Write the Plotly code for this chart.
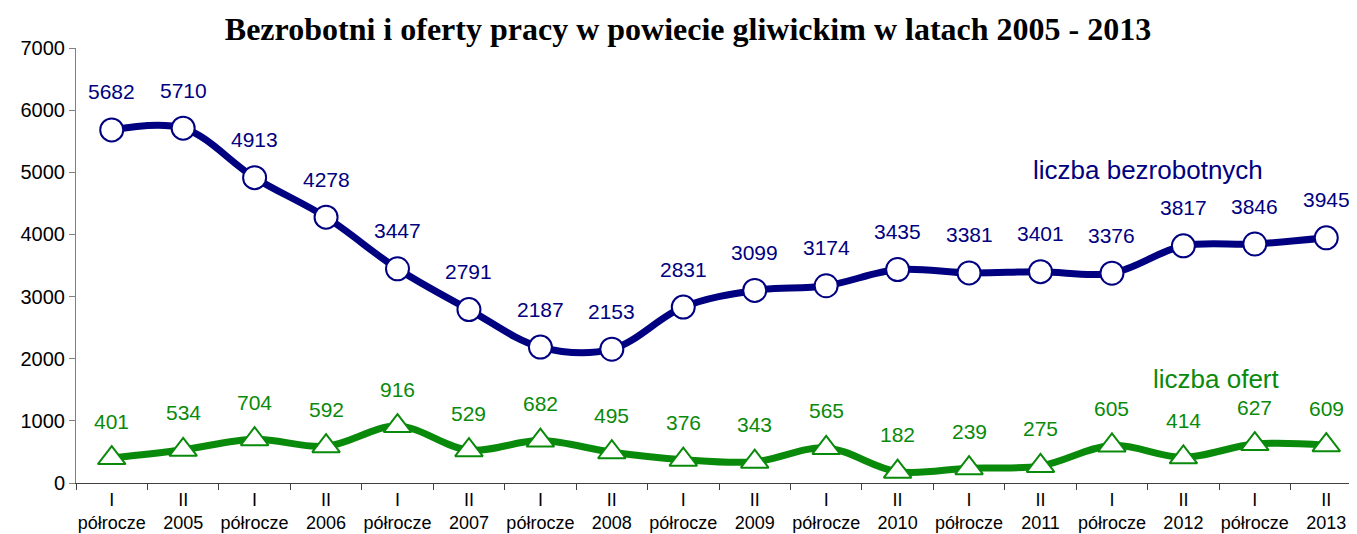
import plotly.graph_objects as go

tick_labels = ["I<br>półrocze", "II<br>2005", "I<br>półrocze", "II<br>2006", "I<br>półrocze", "II<br>2007",
               "I<br>półrocze", "II<br>2008", "I<br>półrocze", "II<br>2009", "I<br>półrocze", "II<br>2010",
               "I<br>półrocze", "II<br>2011", "I<br>półrocze", "II<br>2012", "I<br>półrocze", "II<br>2013"]
bezrobotni = [5682, 5710, 4913, 4278, 3447, 2791, 2187, 2153, 2831, 3099, 3174, 3435, 3381, 3401, 3376, 3817, 3846, 3945]
oferty = [401, 534, 704, 592, 916, 529, 682, 495, 376, 343, 565, 182, 239, 275, 605, 414, 627, 609]
y_ticks = [0, 1000, 2000, 3000, 4000, 5000, 6000, 7000]

positions = list(range(len(tick_labels)))
boundaries = [p + 0.5 for p in positions[:-1]] + [-0.5]

NAVY = "#000080"
GREEN = "#0a8a0a"
FONT = "Arial, Liberation Sans"

fig = go.Figure()
fig.add_trace(go.Scatter(
    x=positions, y=bezrobotni, mode="lines+markers",
    line=dict(color=NAVY, width=7, shape="spline", smoothing=1.0),
    marker=dict(symbol="circle", size=23, color="white", line=dict(color=NAVY, width=2)),
    showlegend=False, cliponaxis=False))
fig.add_trace(go.Scatter(
    x=positions, y=oferty, mode="lines+markers",
    line=dict(color=GREEN, width=7, shape="spline", smoothing=1.0),
    marker=dict(symbol="triangle-up", size=24, color="white", line=dict(color=GREEN, width=2)),
    showlegend=False, cliponaxis=False))
# invisible trace to activate the boundary-tick axis
fig.add_trace(go.Scatter(x=[positions[0]], y=[0], xaxis="x2", mode="markers",
                         marker=dict(opacity=0), showlegend=False, hoverinfo="skip"))

for p, v in zip(positions, bezrobotni):
    fig.add_annotation(x=p, y=v, text=str(v), showarrow=False, yshift=38,
                       font=dict(family=FONT, size=21, color=NAVY))
for p, v in zip(positions, oferty):
    fig.add_annotation(x=p, y=v, text=str(v), showarrow=False, yshift=37,
                       font=dict(family=FONT, size=21, color=GREEN))

# page body has an 8px margin; figure is drawn offset by (8, 8)
OFF = 8
W, H = 1357 - OFF, 534 - OFF
ml, mr, mt, mb = 76 - OFF, 0, 48 - OFF, 534 - 483
pw, ph = W - ml - mr, H - mt - mb

def px_to_paper(x, y):
    return (x - OFF - ml) / pw, (H - mb - (y - OFF)) / ph

ax, ay = px_to_paper(1148, 170)
fig.add_annotation(x=ax, y=ay, xref="paper", yref="paper", xanchor="center", yanchor="middle",
                   text="liczba bezrobotnych", showarrow=False,
                   font=dict(family=FONT, size=26, color=NAVY))
ax, ay = px_to_paper(1216, 379)
fig.add_annotation(x=ax, y=ay, xref="paper", yref="paper", xanchor="center", yanchor="middle",
                   text="liczba ofert", showarrow=False,
                   font=dict(family=FONT, size=26, color=GREEN))

xrange = [-0.5, 17.43]
fig.update_layout(
    width=W, height=H,
    margin=dict(l=ml, r=mr, t=mt, b=mb, autoexpand=False),
    paper_bgcolor="white", plot_bgcolor="white",
    title=dict(text="<b>Bezrobotni i oferty pracy w powiecie gliwickim w latach 2005 - 2013</b>",
               x=(688 - OFF) / W, xanchor="center", y=1 - (29 - OFF) / H, yanchor="middle",
               font=dict(family="Times New Roman, Liberation Serif", size=32, color="black")),
    xaxis=dict(range=xrange, tickvals=positions, ticktext=tick_labels, ticks="",
               showline=True, linecolor="#404040", linewidth=1, showgrid=False, zeroline=False,
               tickangle=0, automargin=False,
               tickfont=dict(family=FONT, size=18, color="black")),
    xaxis2=dict(range=xrange, overlaying="x", side="bottom", tickvals=boundaries, ticks="outside",
                ticklen=6, tickcolor="#404040", showticklabels=False, showgrid=False, zeroline=False,
                showline=False, automargin=False),
    yaxis=dict(range=[0, 7000], tickvals=y_ticks, ticks="outside", ticklen=6, tickcolor="#808080",
               showline=True, linecolor="#808080", linewidth=1, showgrid=False, zeroline=False,
               automargin=False,
               tickfont=dict(family=FONT, size=20, color="black")),
)

fig.write_html("out.html")
